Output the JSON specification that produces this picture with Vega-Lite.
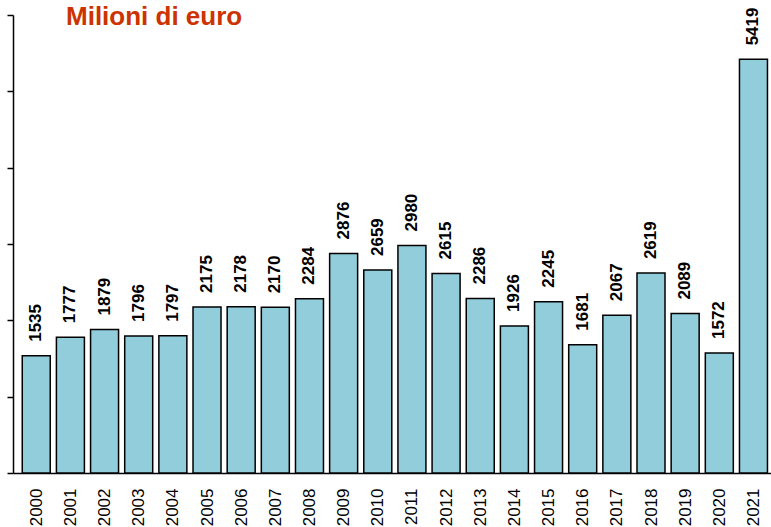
{
  "$schema": "https://vega.github.io/schema/vega-lite/v6.json",
  "autosize": "none",
  "width": 758,
  "height": 458,
  "padding": {"left": 13, "top": 15, "right": 0, "bottom": 54},
  "background": "white",
  "title": {
    "text": "Milioni di euro",
    "anchor": "start",
    "frame": "group",
    "orient": "top",
    "baseline": "top",
    "offset": -22,
    "dx": 53,
    "font": "Liberation Sans",
    "fontSize": 26,
    "fontWeight": "bold",
    "color": "#CC3300"
  },
  "config": {"view": {"stroke": null}},
  "data": {
    "values": [
      {"year": 2000, "value": 1535},
      {"year": 2001, "value": 1777},
      {"year": 2002, "value": 1879},
      {"year": 2003, "value": 1796},
      {"year": 2004, "value": 1797},
      {"year": 2005, "value": 2175},
      {"year": 2006, "value": 2178},
      {"year": 2007, "value": 2170},
      {"year": 2008, "value": 2284},
      {"year": 2009, "value": 2876},
      {"year": 2010, "value": 2659},
      {"year": 2011, "value": 2980},
      {"year": 2012, "value": 2615},
      {"year": 2013, "value": 2286},
      {"year": 2014, "value": 1926},
      {"year": 2015, "value": 2245},
      {"year": 2016, "value": 1681},
      {"year": 2017, "value": 2067},
      {"year": 2018, "value": 2619},
      {"year": 2019, "value": 2089},
      {"year": 2020, "value": 1572},
      {"year": 2021, "value": 5419}
    ]
  },
  "encoding": {
    "x": {
      "field": "year",
      "type": "quantitative",
      "scale": {"domain": [1999.4655, 2021.367], "nice": false, "zero": false},
      "axis": {
        "title": null,
        "values": [2000, 2001, 2002, 2003, 2004, 2005, 2006, 2007, 2008, 2009, 2010, 2011, 2012, 2013, 2014, 2015, 2016, 2017, 2018, 2019, 2020, 2021],
        "format": "d",
        "labelAngle": -90,
        "labelAlign": "right",
        "labelBaseline": "middle",
        "labelPadding": 15,
        "labelFont": "Liberation Sans",
        "labelFontSize": 17,
        "labelColor": "black",
        "labelOverlap": false,
        "labelFlush": false,
        "ticks": false,
        "grid": false,
        "domainColor": "black",
        "domainWidth": 1.5
      }
    },
    "y": {
      "field": "value",
      "type": "quantitative",
      "scale": {"domain": [0, 6000], "nice": false},
      "axis": {
        "title": null,
        "values": [0, 1000, 2000, 3000, 4000, 5000, 6000],
        "labels": false,
        "tickSize": 6,
        "tickColor": "black",
        "tickWidth": 1.5,
        "domainColor": "black",
        "domainWidth": 1.5,
        "grid": false
      }
    }
  },
  "layer": [
    {
      "mark": {"type": "bar", "width": 28, "fill": "#92CDDC", "stroke": "black", "strokeWidth": 1.5, "clip": true}
    },
    {
      "mark": {
        "type": "text",
        "angle": 270,
        "align": "left",
        "baseline": "middle",
        "dx": 14,
        "font": "Liberation Sans",
        "fontSize": 17,
        "fontWeight": "bold",
        "color": "black"
      },
      "encoding": {"text": {"field": "value", "type": "quantitative", "format": "d"}}
    }
  ]
}
